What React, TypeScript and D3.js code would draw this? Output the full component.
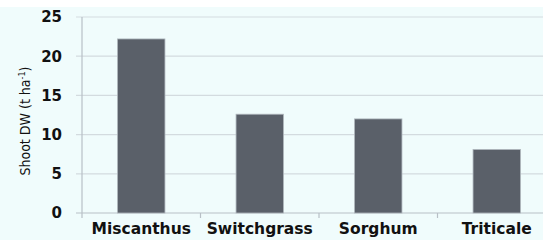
import { useEffect, useRef } from "react";
import * as d3 from "d3";

// Chart data
const categories = ["Miscanthus", "Switchgrass", "Sorghum", "Triticale"];
const shootDW = [22.2, 12.6, 12.0, 8.1];
const yTicks = [0, 5, 10, 15, 20, 25];

export default function App(): JSX.Element {
    const svgRef = useRef<SVGSVGElement>(null);
    const width = 543;
    const height = 240;

    useEffect(() => {
        const svg = d3.select(svgRef.current);
        svg.selectAll("*").remove();

        const left = 82;
        const right = 556; // plot runs past the right edge of the picture
        const top = 17;
        const bottom = 213;

        // Background
        svg.append("rect")
            .attr("x", 0).attr("y", 7)
            .attr("width", width).attr("height", height - 7)
            .attr("fill", "#f0fcfc");

        const x = d3.scaleBand<string>().domain(categories).range([left, right]).padding(0);
        const y = d3.scaleLinear().domain([0, 25]).range([bottom, top]);

        // Gridlines + y tick labels
        const grid = svg.append("g");
        grid.selectAll("line")
            .data(yTicks)
            .enter().append("line")
            .attr("x1", left - 6).attr("x2", width)
            .attr("y1", d => y(d)).attr("y2", d => y(d))
            .attr("stroke", d => d === 0 ? "#b8c0c6" : "#d3dbdf")
            .attr("stroke-width", 1.2);

        grid.selectAll("text")
            .data(yTicks)
            .enter().append("text")
            .attr("x", 62).attr("y", d => y(d))
            .attr("dy", "0.36em")
            .attr("text-anchor", "end")
            .attr("font-family", "DejaVu Sans")
            .attr("font-weight", "bold")
            .attr("font-size", 15)
            .attr("fill", "#111")
            .text(d => d);

        // Y axis line
        svg.append("line")
            .attr("x1", left).attr("x2", left)
            .attr("y1", top).attr("y2", bottom + 5)
            .attr("stroke", "#b8c0c6").attr("stroke-width", 1.2);

        // Category tick marks
        svg.append("g").selectAll("line")
            .data(categories.slice(1))
            .enter().append("line")
            .attr("x1", d => x(d)!).attr("x2", d => x(d)!)
            .attr("y1", bottom).attr("y2", bottom + 5)
            .attr("stroke", "#b8c0c6").attr("stroke-width", 1.2);

        // Bars
        const barW = x.bandwidth() * 0.4;
        svg.append("g").selectAll("rect")
            .data(categories)
            .enter().append("rect")
            .attr("x", d => x(d)! + (x.bandwidth() - barW) / 2)
            .attr("y", (d, i) => y(shootDW[i]))
            .attr("width", barW)
            .attr("height", (d, i) => bottom - y(shootDW[i]))
            .attr("fill", "#5a6069")
            .attr("stroke", "#aeb6bc")
            .attr("stroke-width", 0.8);

        // Category labels
        svg.append("g").selectAll("text")
            .data(categories)
            .enter().append("text")
            .attr("x", d => x(d)! + x.bandwidth() / 2)
            .attr("y", 234)
            .attr("text-anchor", "middle")
            .attr("font-family", "DejaVu Sans")
            .attr("font-weight", "bold")
            .attr("font-size", 15.5)
            .attr("fill", "#111")
            .text(d => d);

        // Y axis title
        const title = svg.append("text")
            .attr("transform", `translate(30,${(top + bottom) / 2 + 6}) rotate(-90)`)
            .attr("text-anchor", "middle")
            .attr("font-family", "DejaVu Sans Condensed, DejaVu Sans")
            .attr("font-size", 14)
            .attr("fill", "#111");
        title.append("tspan").text("Shoot DW (t ha");
        title.append("tspan").attr("dy", -5).attr("font-size", 9).text("-1");
        title.append("tspan").attr("dy", 5).text(")");
    }, []);

    return (
        <svg ref={svgRef} width={width} height={height}
            style={{ position: "absolute", left: 0, top: 0, background: "#fff" }} />
    );
}
